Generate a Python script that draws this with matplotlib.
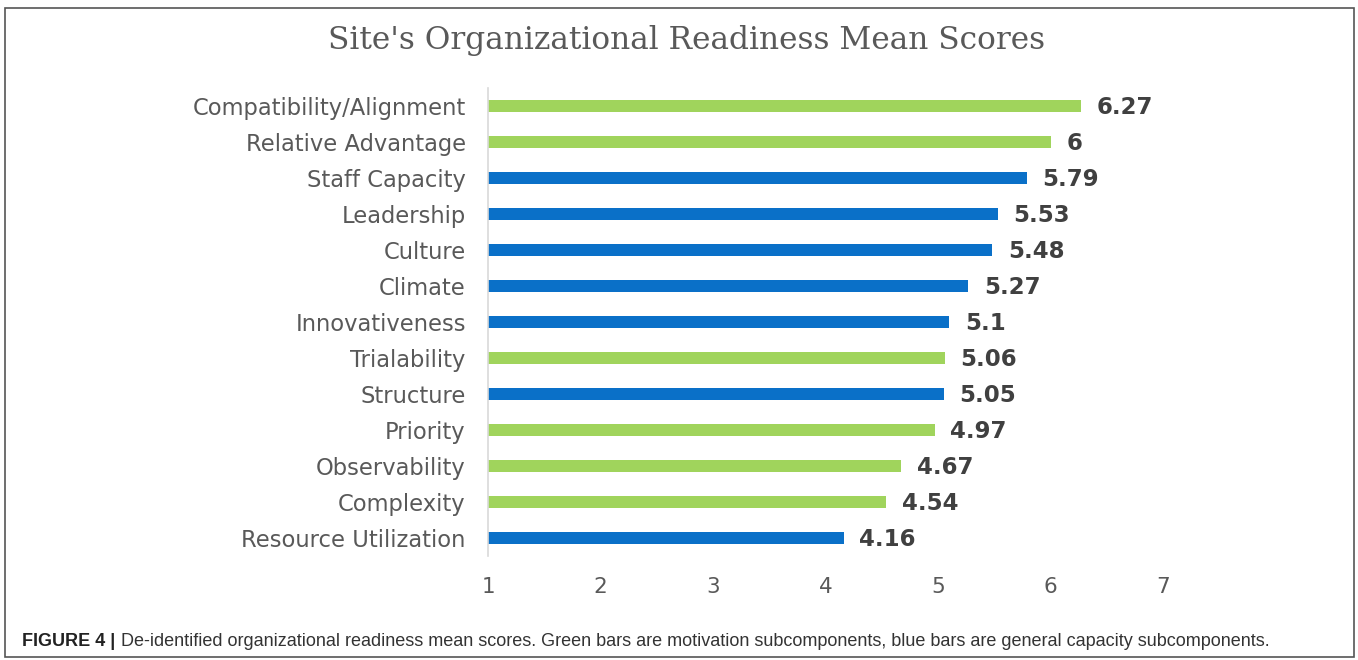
import matplotlib.pyplot as plt
from matplotlib.patches import Rectangle

# values, top to bottom
categories = ['Compatibility/Alignment', 'Relative Advantage', 'Staff Capacity',
              'Leadership', 'Culture', 'Climate', 'Innovativeness', 'Trialability',
              'Structure', 'Priority', 'Observability', 'Complexity',
              'Resource Utilization']
scores = [6.27, 6, 5.79, 5.53, 5.48, 5.27, 5.1, 5.06, 5.05, 4.97, 4.67, 4.54, 4.16]
group = ['m', 'm', 'c', 'c', 'c', 'c', 'c', 'm', 'c', 'm', 'm', 'm', 'c']
score_labels = ['6.27', '6', '5.79', '5.53', '5.48', '5.27', '5.1', '5.06',
                '5.05', '4.97', '4.67', '4.54', '4.16']
x_ticks = [1, 2, 3, 4, 5, 6, 7]

GREEN = '#a0d45c'
BLUE = '#0a70c8'
colors = {'m': GREEN, 'c': BLUE}

W, H = 1358, 660
fig = plt.figure(figsize=(W / 100, H / 100), dpi=100)

# outer frame
fig.patches.append(Rectangle((5 / W, 3 / H), 1349 / W, 649 / H,
                             transform=fig.transFigure, fill=False,
                             edgecolor='#555555', linewidth=1.2))

ax = fig.add_axes([488 / W, 1 - 556 / H, 675 / W, 468 / H])

ypos = list(range(len(categories)))
base = x_ticks[0]
ax.barh(ypos, [s - base for s in scores], left=base, height=0.36,
        color=[colors[g] for g in group])

for y, s, lab in zip(ypos, scores, score_labels):
    ax.text(s + 0.14, y + 0.05, lab, va='center', ha='left', fontsize=16.5,
            fontweight='bold', color='#404040', family='DejaVu Sans')

ax.set_xlim(1, 7)
ax.set_ylim(len(categories) - 0.5, -0.5)
ax.set_xticks(x_ticks)
ax.set_xticklabels([str(t) for t in x_ticks])
ax.set_yticks(ypos)
ax.set_yticklabels(categories)
ax.tick_params(axis='x', length=0, pad=15, labelsize=15.5, labelcolor='#595959')
ax.tick_params(axis='y', length=0, pad=16, labelsize=16.3, labelcolor='#595959')
for lab in ax.get_xticklabels() + ax.get_yticklabels():
    lab.set_family('DejaVu Sans')

for side in ('top', 'right', 'bottom'):
    ax.spines[side].set_visible(False)
ax.spines['left'].set_color('#d9d9d9')
ax.spines['left'].set_linewidth(1.2)

fig.text(687 / W, 1 - 40 / H, "Site's Organizational Readiness Mean Scores",
         ha='center', va='center', fontsize=22.5, color='#595959',
         family='DejaVu Serif')

cap_fam = ['Liberation Sans Narrow', 'Liberation Sans']
head = fig.text(22 / W, 1 - 642 / H, 'FIGURE 4 |', ha='left', va='center',
                fontsize=13, fontweight='bold', color='#222222', family=cap_fam)
fig.canvas.draw()
bb = head.get_window_extent()
fig.text((bb.x1 + 6) / W, 1 - 642 / H,
         'De-identified organizational readiness mean scores. Green bars are motivation '
         'subcomponents, blue bars are general capacity subcomponents.',
         ha='left', va='center', fontsize=13, color='#333333', family=cap_fam)

fig.savefig('out.png', dpi=100)
